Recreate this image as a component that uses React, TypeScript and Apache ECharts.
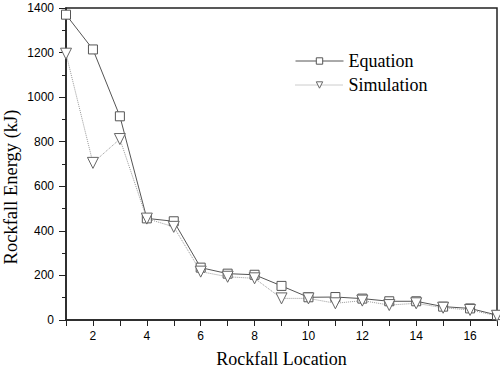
import React, { useEffect, useRef } from "react";
import * as echarts from "echarts";

const locations = [1, 2, 3, 4, 5, 6, 7, 8, 9, 10, 11, 12, 13, 14, 15, 16, 17];
const equation = [1370, 1214, 914, 456, 443, 235, 208, 203, 153, 102, 103, 96, 84, 84, 60, 52, 22];
const simulation = [1195, 705, 812, 455, 418, 217, 194, 187, 97, 97, 75, 87, 67, 75, 55, 45, 19];
const seriesNames = ["Equation", "Simulation"];

export default function App() {
  const ref = useRef<HTMLDivElement>(null);
  useEffect(() => {
    if (!ref.current) return;
    const chart = echarts.init(ref.current, null, { renderer: "svg" });
    const serif = "'Liberation Serif', 'Times New Roman', serif";
    const sans = "'Liberation Sans', Arial, sans-serif";
    chart.setOption({
      animation: false,
      backgroundColor: "#fff",
      grid: {
        left: 66, right: 3, top: 8, bottom: 49,
        containLabel: false, outerBoundsMode: "none",
        show: true, borderColor: "#222", borderWidth: 1.5, backgroundColor: "transparent",
      },
      legend: {
        orient: "vertical",
        left: 290,
        top: 47,
        itemWidth: 48,
        itemHeight: 8,
        itemGap: 6,
        textStyle: { fontFamily: serif, fontSize: 18, color: "#000" },
        lineStyle: { width: 1 },
        itemStyle: { color: "#fff", borderWidth: 1 },
        data: seriesNames,
      },
      xAxis: {
        type: "value",
        min: 1,
        max: 17,
        interval: 1,
        name: "Rockfall Location",
        nameLocation: "middle",
        nameGap: 30,
        nameMoveOverlap: false,
        nameTextStyle: { fontFamily: serif, fontSize: 18, color: "#000" },
        axisLine: { lineStyle: { color: "#222", width: 1.5 } },
        axisTick: { show: true, length: 6, lineStyle: { color: "#222" } },
        axisLabel: {
          fontFamily: sans,
          fontSize: 12,
          color: "#000",
          margin: 10,
          formatter: (v: number) => (v % 2 === 0 && v < 17 ? String(v) : ""),
        },
        splitLine: { show: false },
      },
      yAxis: {
        type: "value",
        min: 0,
        max: 1400,
        interval: 200,
        name: "Rockfall Energy (kJ)",
        nameLocation: "middle",
        nameGap: 46,
        nameMoveOverlap: false,
        nameTextStyle: { fontFamily: serif, fontSize: 18.5, color: "#000", padding: [0, 46, 0, 0] },
        axisLine: { show: true, lineStyle: { color: "#222", width: 1.5 } },
        axisTick: { show: true, length: 7, lineStyle: { color: "#222" } },
        minorTick: { show: true, splitNumber: 2, length: 4, lineStyle: { color: "#222" } },
        axisLabel: { fontFamily: sans, fontSize: 12, color: "#000", margin: 12, formatter: (v: number) => String(v) },
        splitLine: { show: false },
      },
      series: [
        {
          name: seriesNames[0],
          type: "line",
          data: locations.map((x, i) => [x, equation[i]]),
          symbol: "rect",
          symbolSize: 9,
          lineStyle: { color: "#555", width: 1, type: "solid" },
          itemStyle: { color: "#fff", borderColor: "#555", borderWidth: 1 },
          clip: false,
        },
        {
          name: seriesNames[1],
          type: "line",
          data: locations.map((x, i) => [x, simulation[i]]),
          symbol: "triangle",
          symbolRotate: 180,
          symbolSize: 11,
          lineStyle: { color: "#999", width: 1, type: "dotted" },
          itemStyle: { color: "#fff", borderColor: "#666", borderWidth: 1 },
          clip: false,
        },
      ],
    });
    return () => chart.dispose();
  }, []);
  return <div ref={ref} style={{ width: 500, height: 369, position: "absolute", left: 0, top: 0 }} />;
}
